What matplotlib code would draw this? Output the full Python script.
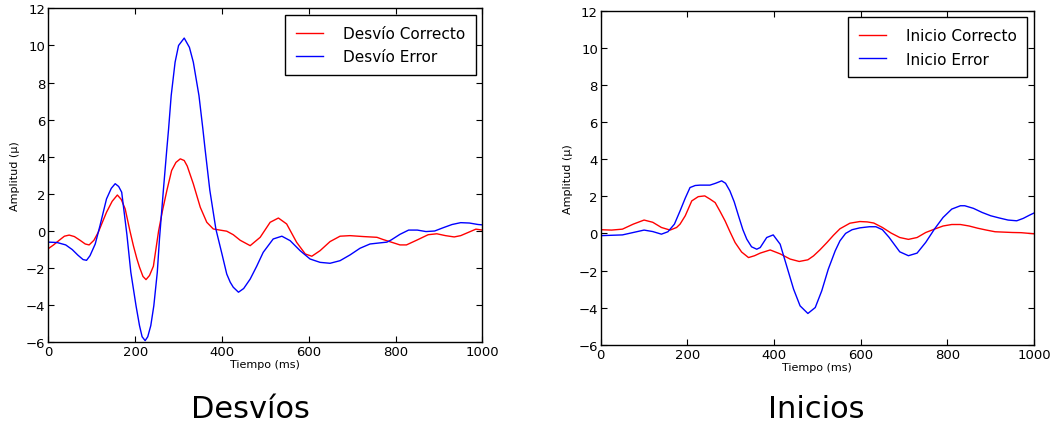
import matplotlib
matplotlib.use("Agg")
import matplotlib.pyplot as plt

# ---- Desvíos ----
t_dc = [0, 12, 25, 37, 48, 60, 73, 85, 94, 105, 115, 125, 134, 147, 159, 168, 177, 188, 196, 204, 210, 218, 225, 233, 242, 254, 263, 273, 284, 294, 304, 313, 320, 334, 350, 365, 380, 395, 411, 426, 442, 465, 488, 511, 530, 549, 572, 592, 607, 626, 649, 672, 695, 726, 757, 770, 790, 810, 825, 850, 875, 895, 915, 935, 950, 970, 985, 1000]
v_dc = [-0.95, -0.75, -0.5, -0.28, -0.22, -0.3, -0.5, -0.7, -0.75, -0.5, -0.07, 0.5, 1.01, 1.6, 1.94, 1.7, 1.19, 0.0, -0.8, -1.5, -1.95, -2.45, -2.62, -2.4, -1.9, 0.0, 1.1, 2.18, 3.26, 3.7, 3.89, 3.8, 3.5, 2.54, 1.28, 0.47, 0.11, 0.05, -0.01, -0.2, -0.5, -0.79, -0.34, 0.47, 0.7, 0.38, -0.61, -1.24, -1.36, -1.06, -0.57, -0.28, -0.25, -0.3, -0.34, -0.45, -0.6, -0.75, -0.75, -0.48, -0.2, -0.15, -0.25, -0.32, -0.25, -0.05, 0.1, 0.05]

t_de = [0, 20, 40, 55, 68, 80, 88, 96, 108, 119, 134, 145, 154, 162, 169, 181, 190, 202, 210, 216, 223, 229, 236, 243, 251, 256, 265, 273, 277, 283, 292, 300, 313, 325, 334, 347, 356, 361, 372, 386, 400, 411, 419, 426, 438, 450, 465, 480, 495, 518, 538, 557, 580, 603, 626, 649, 672, 695, 718, 741, 764, 780, 790, 810, 830, 850, 870, 890, 910, 930, 950, 970, 990, 1000]
v_de = [-0.6, -0.62, -0.75, -1.0, -1.3, -1.54, -1.58, -1.33, -0.7, 0.29, 1.73, 2.3, 2.55, 2.4, 2.09, -0.2, -2.22, -4.03, -5.1, -5.7, -5.91, -5.7, -5.1, -4.03, -2.22, -0.43, 2.2, 4.43, 5.5, 7.3, 9.1, 10.0, 10.4, 9.9, 9.1, 7.3, 5.5, 4.43, 2.2, 0.1, -1.24, -2.32, -2.76, -3.03, -3.3, -3.1, -2.59, -1.9, -1.15, -0.43, -0.28, -0.52, -1.06, -1.51, -1.69, -1.74, -1.6, -1.29, -0.93, -0.7, -0.64, -0.6, -0.48, -0.18, 0.05, 0.05, -0.03, 0.0, 0.18, 0.35, 0.45, 0.43, 0.35, 0.33]

# ---- Inicios ----
t_ic = [0, 25, 50, 75, 100, 120, 140, 160, 175, 183, 195, 210, 225, 240, 252, 264, 275, 287, 298, 310, 325, 341, 355, 368, 391, 414, 437, 458, 478, 491, 506, 522, 537, 552, 575, 598, 615, 630, 650, 670, 690, 710, 730, 750, 770, 790, 810, 830, 850, 870, 890, 910, 930, 950, 970, 1000]
v_ic = [0.2, 0.18, 0.23, 0.5, 0.72, 0.6, 0.32, 0.18, 0.32, 0.5, 0.95, 1.75, 1.98, 2.02, 1.85, 1.66, 1.2, 0.67, 0.1, -0.49, -1.0, -1.3, -1.2, -1.06, -0.89, -1.1, -1.38, -1.51, -1.42, -1.21, -0.88, -0.49, -0.1, 0.25, 0.55, 0.64, 0.62, 0.56, 0.32, 0.02, -0.22, -0.32, -0.22, 0.05, 0.23, 0.4, 0.48, 0.48, 0.4, 0.28, 0.18, 0.09, 0.07, 0.05, 0.04, -0.02]

t_ie = [0, 25, 50, 75, 100, 120, 140, 155, 170, 183, 195, 206, 218, 229, 252, 265, 279, 288, 298, 308, 318, 328, 337, 348, 360, 368, 383, 398, 414, 429, 445, 460, 478, 495, 510, 525, 541, 552, 565, 580, 598, 620, 635, 650, 665, 690, 710, 730, 750, 770, 790, 810, 830, 840, 860, 880, 900, 920, 940, 960, 975, 990, 1000]
v_ie = [-0.12, -0.1, -0.08, 0.05, 0.18, 0.1, -0.04, 0.09, 0.5, 1.21, 1.9, 2.47, 2.58, 2.6, 2.6, 2.7, 2.83, 2.7, 2.29, 1.7, 0.94, 0.2, -0.31, -0.72, -0.85, -0.76, -0.22, -0.08, -0.58, -1.75, -3.0, -3.9, -4.31, -3.99, -3.09, -1.93, -0.94, -0.4, 0.0, 0.2, 0.3, 0.36, 0.36, 0.2, -0.2, -0.99, -1.2, -1.06, -0.48, 0.23, 0.86, 1.31, 1.49, 1.49, 1.35, 1.13, 0.95, 0.83, 0.72, 0.68, 0.81, 0.99, 1.1]

x_ticks = [0, 200, 400, 600, 800, 1000]
y_ticks = [-6, -4, -2, 0, 2, 4, 6, 8, 10, 12]

fig = plt.figure(figsize=(10.51, 4.27), dpi=100)
ax1 = fig.add_axes([0.046, 0.196, 0.413, 0.782])
ax2 = fig.add_axes([0.5716, 0.190, 0.4123, 0.783])

def style(ax, tc, vc, te, ve, lab_c, lab_e, title, tx):
    ax.plot(tc, vc, color=(1, 0, 0), lw=1.0, label=lab_c)
    ax.plot(te, ve, color=(0, 0, 1), lw=1.0, label=lab_e)
    ax.set_xlim(0, 1000)
    ax.set_ylim(-6, 12)
    ax.set_xticks(x_ticks)
    ax.set_yticks(y_ticks)
    ax.tick_params(direction='in', top=True, right=True, length=4, width=0.8,
                   labelsize=9.5, pad=2, colors='black')
    for s in ax.spines.values():
        s.set_linewidth(1.0)
    ax.set_xlabel('Tiempo (ms)', fontsize=8, labelpad=1)
    ax.set_ylabel('Amplitud (μ)', fontsize=8, labelpad=4)
    leg = ax.legend(loc='upper right', fontsize=11, fancybox=False, framealpha=1,
                    edgecolor='black', handlelength=1.75, handletextpad=1.3,
                    borderaxespad=0.45, borderpad=0.7, labelspacing=0.55,
                    handleheight=0.7)
    leg.get_frame().set_linewidth(1.0)
    fig.text(tx, 0.04, title, ha='center', va='center', fontsize=22)

style(ax1, t_dc, v_dc, t_de, v_de, 'Desvío Correcto', 'Desvío Error', 'Desvíos', 250 / 1051)
style(ax2, t_ic, v_ic, t_ie, v_ie, 'Inicio Correcto', 'Inicio Error', 'Inicios', 816 / 1051)

fig.savefig('out.png', dpi=100)
